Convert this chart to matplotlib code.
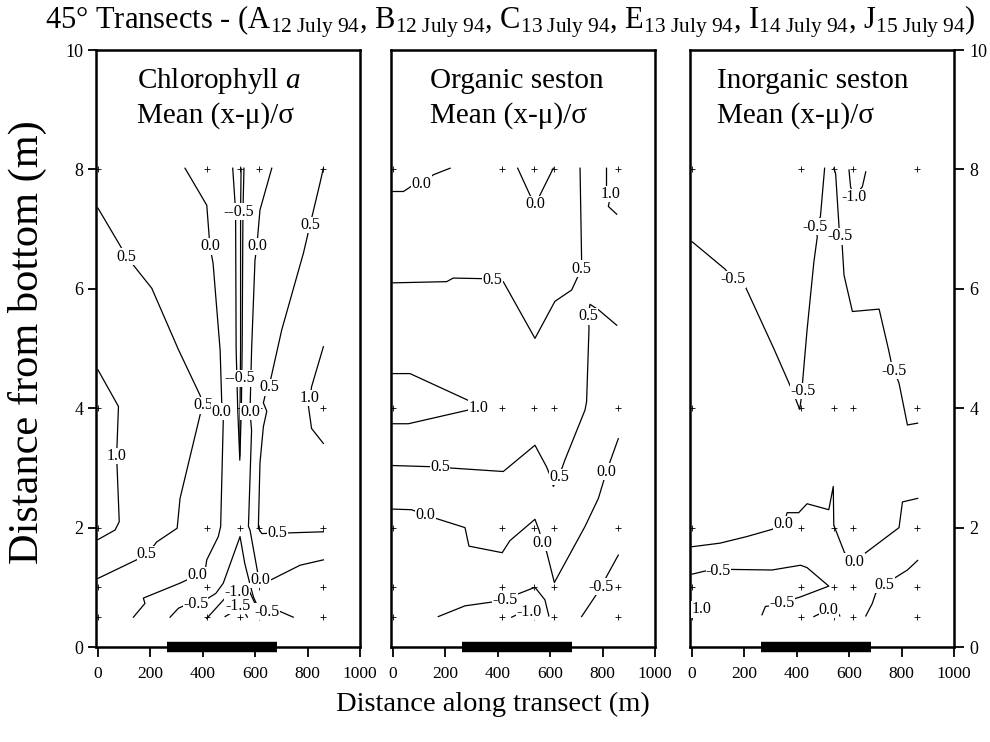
import matplotlib
matplotlib.use("Agg")
import matplotlib.pyplot as plt

plt.rcParams["font.family"] = ["Liberation Serif", "DejaVu Serif"]
plt.rcParams["mathtext.fontset"] = "custom"
plt.rcParams["mathtext.rm"] = "Liberation Serif"
plt.rcParams["mathtext.it"] = "Liberation Serif:italic"

# ---------------- data ----------------
station_x = [0, 415, 540, 615, 860]          # sampling stations along transect (m)
sample_depth = [0.5, 1, 2, 4, 8]             # sampling heights above bottom (m)
reef_span = [265, 682]                       # black bar along bottom (m)
x_ticks = [0, 200, 400, 600, 800, 1000]
y_ticks = [0, 2, 4, 6, 8, 10]

# Chlorophyll a contours (x m, y m)
chl_p05_west = [(0, 7.35), (109, 6.54), (205, 6.01), (307, 4.98), (389, 4.22), (400, 4.08),
                (313, 2.49), (302, 1.99), (224, 1.76), (186, 1.55), (147, 1.46), (0, 1.15)]
chl_p10_west = [(0, 4.64), (78, 4.03), (71, 3.2), (81, 2.10), (65, 1.96), (0, 1.80)]
chl_0_west = [(332, 8.02), (415, 7.40), (427, 6.71), (439, 6.43), (466, 4.97), (472, 4.11),
              (478, 3.94), (478, 3.8), (468, 2.02), (459, 1.85), (415, 1.46), (408, 1.26),
              (377, 1.2), (313, 1.07), (173, 0.82), (179, 0.73), (135, 0.50)]
chl_0_east = [(663, 8.02), (618, 7.32), (606, 6.71), (599, 6.48), (586, 4.97), (580, 3.94),
              (586, 3.63), (574, 2.02), (580, 1.96), (612, 1.18), (620, 1.12), (644, 1.09),
              (771, 1.37), (860, 1.46)]
chl_p05_east = [(860, 8.02), (847, 7.77), (809, 7.07), (784, 6.6), (701, 5.31), (652, 4.35),
                (638, 4.22), (631, 4.09), (644, 3.95), (631, 3.69), (618, 3.08), (612, 2.02),
                (612, 1.99), (625, 1.90), (680, 1.91), (714, 1.91), (860, 1.93)]
chl_p10_east = [(860, 5.03), (815, 4.36), (809, 4.17), (803, 4.03), (815, 3.66), (860, 3.41)]
chl_m05_center = [(514, 8.02), (525, 7.30), (527, 5.0), (533, 4.0), (541, 3.13),
                  (547, 4.0), (550, 5.0), (553, 7.30), (557, 8.02)]
chl_m10_center = [(546, 8.02), (544, 7.3), (544, 5.0), (542, 4.0), (541, 3.2)]
chl_m05_south = [(275, 0.50), (307, 0.65), (332, 0.70), (377, 0.72), (421, 0.82), (450, 0.90),
                 (478, 1.07), (542, 1.85), (560, 1.4), (580, 1.05), (593, 0.84), (612, 0.65),
                 (644, 0.59), (682, 0.62), (745, 0.50)]
chl_m10_south = [(415, 0.48), (485, 0.82), (529, 0.93), (574, 0.97), (600, 0.72)]
chl_m15_south = [(485, 0.51), (504, 0.56), (535, 0.69), (561, 0.57), (570, 0.50)]
chl_labels = [("0.5", 109, 6.54), ("--0.5", 535, 7.29), ("0.0", 427, 6.71), ("0.0", 606, 6.71),
              ("0.5", 809, 7.07), ("--0.5", 542, 4.5), ("0.5", 652, 4.35), ("1.0", 809, 4.17),
              ("0.5", 400, 4.05), ("0.0", 472, 3.94), ("0.0", 582, 3.94), ("1.0", 71, 3.2),
              ("0.5", 186, 1.55), ("0.5", 684, 1.91), ("0.0", 377, 1.2), ("0.0", 620, 1.12),
              ("-1.0", 529, 0.93), ("-0.5", 372, 0.72), ("-1.5", 535, 0.69), ("-0.5", 644, 0.59)]

# Organic seston contours
org_0_nw = [(0, 7.63), (40, 7.63), (78, 7.74), (109, 7.76), (154, 7.91), (218, 8.02)]
org_0_top = [(476, 8.02), (523, 7.57), (542, 7.42), (561, 7.57), (612, 8.02)]
org_p05_upper = [(0, 6.10), (205, 6.12), (230, 6.18), (345, 6.17), (380, 6.14), (421, 6.12),
                 (542, 5.17), (618, 5.79), (682, 5.98), (720, 6.34), (720, 6.48), (714, 8.02)]
org_p10_ne = [(815, 8.02), (815, 7.71), (832, 7.59), (822, 7.38), (854, 7.25)]
org_p05_lower = [(0, 3.04), (148, 3.02), (179, 3.01), (421, 2.94), (542, 3.38), (586, 3.02),
                 (599, 2.88), (612, 2.69), (633, 2.85), (656, 3.13), (733, 3.97), (739, 4.11),
                 (748, 5.31), (748, 5.37), (745, 5.54), (752, 5.74), (784, 5.65), (854, 5.39)]
org_p10_west = [(0, 4.58), (65, 4.58), (288, 4.13), (326, 4.01), (288, 3.97), (59, 3.74), (0, 3.74)]
org_0_mid = [(0, 2.31), (71, 2.30), (125, 2.21), (167, 2.15), (275, 2.0), (290, 1.69), (417, 1.58),
             (446, 1.78), (542, 2.14), (558, 1.95), (570, 1.75), (586, 1.60), (616, 1.08),
             (733, 2.02), (784, 2.49), (815, 2.94), (860, 3.49)]
org_m05_south = [(173, 0.51), (275, 0.69), (389, 0.76), (427, 0.78), (466, 0.87), (542, 1.0),
                 (580, 0.79), (595, 0.52)]
org_m10_south = [(453, 0.50), (478, 0.55), (519, 0.59)]
org_m05_east = [(720, 0.51), (784, 0.93), (794, 1.01), (815, 1.18), (860, 1.54)]
org_labels = [("0.0", 109, 7.76), ("0.0", 542, 7.42), ("1.0", 832, 7.59), ("0.5", 380, 6.14),
              ("0.5", 720, 6.34), ("0.5", 745, 5.54), ("1.0", 326, 4.01), ("0.5", 179, 3.01),
              ("0.5", 633, 2.85), ("0.0", 815, 2.94), ("0.0", 125, 2.21), ("0.0", 570, 1.75),
              ("-0.5", 427, 0.78), ("-1.0", 519, 0.59), ("-0.5", 794, 1.01)]

# Inorganic seston contours
ino_m05_west = [(0, 6.79), (126, 6.33), (158, 6.16), (203, 6.04), (312, 5.0), (382, 4.30),
                (424, 4.29), (395, 4.16), (411, 3.98), (416, 4.14), (439, 5.31), (465, 6.45),
                (478, 6.87), (471, 7.04), (490, 7.21), (506, 8.02)]
ino_m05_east = [(541, 8.02), (548, 7.93), (561, 7.04), (564, 6.88), (573, 6.73), (580, 6.23),
                (612, 5.62), (714, 5.66), (750, 4.98), (765, 4.67), (771, 4.63), (790, 4.42),
                (822, 3.72), (861, 3.75)]
ino_m10_top = [(599, 7.99), (605, 7.71), (618, 7.54), (650, 7.71), (663, 7.96)]
ino_0 = [(0, 1.68), (107, 1.74), (209, 1.85), (305, 1.97), (350, 2.06), (363, 2.25), (407, 2.25),
         (439, 2.40), (522, 2.30), (539, 2.69), (541, 2.04), (582, 1.58), (620, 1.43),
         (663, 1.58), (790, 2.0), (803, 2.43), (861, 2.49)]
ino_m05_south = [(0, 1.22), (66, 1.29), (101, 1.28), (146, 1.30), (305, 1.29), (414, 1.37),
                 (439, 1.33), (522, 1.02), (414, 0.84), (343, 0.74), (299, 0.69), (280, 0.68),
                 (267, 0.54)]
ino_0_south = [(465, 0.51), (484, 0.55), (522, 0.62), (552, 0.61), (564, 0.52)]
ino_p05_se = [(663, 0.52), (688, 0.73), (701, 0.90), (735, 1.04), (771, 1.15), (822, 1.29),
              (861, 1.45)]
ino_labels = [("-0.5", 158, 6.16), ("-0.5", 471, 7.04), ("-0.5", 564, 6.88), ("-1.0", 618, 7.54),
              ("-0.5", 424, 4.29), ("-0.5", 771, 4.63), ("0.0", 350, 2.06), ("0.0", 620, 1.43),
              ("-0.5", 101, 1.28), ("-0.5", 343, 0.74), ("0.0", 522, 0.62), ("0.5", 735, 1.04),
              ("1.0", 37, 0.63)]

chl_lines = [chl_p05_west, chl_p10_west, chl_0_west, chl_0_east, chl_p05_east, chl_p10_east,
             chl_m05_center, chl_m10_center, chl_m05_south, chl_m10_south, chl_m15_south]
org_lines = [org_0_nw, org_0_top, org_p05_upper, org_p10_ne, org_p05_lower, org_p10_west,
             org_0_mid, org_m05_south, org_m10_south, org_m05_east]
ino_lines = [ino_m05_west, ino_m05_east, ino_m10_top, ino_0, ino_m05_south, ino_0_south,
             ino_p05_se]

panel_titles = ["Chlorophyll $a$", "Organic seston", "Inorganic seston"]
panel_sub = "Mean (x-\u03bc)/\u03c3"
title_x = [149, 141, 96]

# ---------------- figure ----------------
fig = plt.figure(figsize=(9.9, 7.42), dpi=100)
lefts = [0.0969, 0.3948, 0.6969]
axes = [fig.add_axes([l, 0.128, 0.2668, 0.8046]) for l in lefts]

panels = [(chl_lines, chl_labels), (org_lines, org_labels), (ino_lines, ino_labels)]
for i, (ax, (lines, labels)) in enumerate(zip(axes, panels)):
    ax.set_xlim(-8, 1000)
    ax.set_ylim(0, 10)
    for pts in lines:
        xs, ys = zip(*pts)
        ax.plot(xs, ys, color="k", lw=0.9, zorder=2)
    for d in sample_depth:
        ax.plot(station_x, [d] * len(station_x), "+", color="k", ms=4, mew=0.6, zorder=1)
    for txt, x, y in labels:
        ax.text(x, y, txt, fontsize=11.5, ha="center", va="center", zorder=3,
                bbox=dict(fc="white", ec="none", pad=0.2))
    ax.plot(reef_span, [0, 0], color="k", lw=7.5, solid_capstyle="butt", clip_on=False, zorder=5)
    ax.text(title_x[i], 9.36, panel_titles[i], fontsize=21, ha="left", va="baseline")
    ax.text(title_x[i], 8.79, panel_sub, fontsize=21, ha="left", va="baseline")
    for s in ax.spines.values():
        s.set_linewidth(1.8)
    ax.set_xticks(x_ticks)
    ax.set_xticklabels([str(t) for t in x_ticks])
    ax.tick_params(axis="x", direction="out", length=7, width=1.3, pad=7, labelsize=12.5)
    ax.set_yticks(y_ticks)
    if i == 0:
        ax.tick_params(axis="y", left=True, right=False, labelleft=True, direction="out",
                       length=6, width=1.3, pad=3, labelsize=13)
    elif i == 1:
        ax.tick_params(axis="y", left=False, right=False, labelleft=False)
    else:
        ax.yaxis.tick_right()
        ax.tick_params(axis="y", left=False, right=True, labelleft=False, labelright=True,
                       direction="out", length=7, width=1.3, pad=4, labelsize=13)

title = (r"45° Transects - (A$_{\mathrm{12\ July\ 94}}$, B$_{\mathrm{12\ July\ 94}}$, "
         r"C$_{\mathrm{13\ July\ 94}}$, E$_{\mathrm{13\ July\ 94}}$, "
         r"I$_{\mathrm{14\ July\ 94}}$, J$_{\mathrm{15\ July\ 94}}$)")
fig.text(0.515, 0.962, title, ha="center", va="baseline", fontsize=22)
fig.text(0.028, 0.539, "Distance from bottom (m)", rotation=90, ha="center", va="center", fontsize=30.5)
fig.text(0.498, 0.05, "Distance along transect (m)", ha="center", va="center", fontsize=20.5)

fig.savefig("out.png", dpi=100)
